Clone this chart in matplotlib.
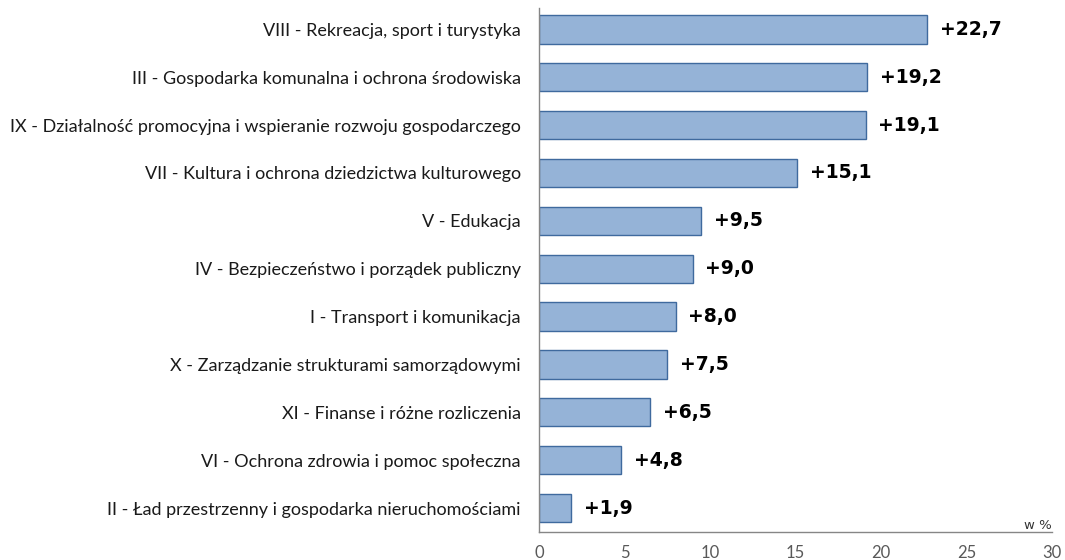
import numpy as np
import matplotlib.pyplot as plt

# dane: dynamika wydatkow wg obszarow (w %)
kategorie = [
    "VIII - Rekreacja, sport i turystyka",
    "III - Gospodarka komunalna i ochrona środowiska",
    "IX - Działalność promocyjna i wspieranie rozwoju gospodarczego",
    "VII - Kultura i ochrona dziedzictwa kulturowego",
    "V - Edukacja",
    "IV - Bezpieczeństwo i porządek publiczny",
    "I - Transport i komunikacja",
    "X - Zarządzanie strukturami samorządowymi",
    "XI - Finanse i różne rozliczenia",
    "VI - Ochrona zdrowia i pomoc społeczna",
    "II - Ład przestrzenny i gospodarka nieruchomościami",
]
wartosci = [22.7, 19.2, 19.1, 15.1, 9.5, 9.0, 8.0, 7.5, 6.5, 4.8, 1.9]
etykiety = ["+22,7", "+19,2", "+19,1", "+15,1", "+9,5", "+9,0",
            "+8,0", "+7,5", "+6,5", "+4,8", "+1,9"]
xticks = [0, 5, 10, 15, 20, 25, 30]

fig = plt.figure(figsize=(10.65, 5.6), dpi=100)
ax = fig.add_axes([0.506, 0.05, 0.482, 0.936])

y = np.arange(len(kategorie))
ax.barh(y, wartosci, height=0.59, color="#95B3D7", edgecolor="#3F6A9E", linewidth=1)

for yi, v, lab in zip(y, wartosci, etykiety):
    ax.annotate(lab, (v, yi), xytext=(9, 0), textcoords="offset points",
                va="center", ha="left", fontsize=13.5, fontweight="bold",
                family="DejaVu Sans", color="black")

ax.set_ylim(len(kategorie) - 0.5, -0.45)
ax.set_xlim(0, 30)
ax.set_yticks(y)
ax.set_yticklabels(kategorie, family="Lato", fontsize=13, color="#1a1a1a")
ax.set_xticks(xticks)
ax.set_xticklabels([str(t) for t in xticks], family="Lato", fontsize=12, color="#595959")
ax.tick_params(axis="both", length=0)
ax.tick_params(axis="y", pad=13)
ax.tick_params(axis="x", pad=9)

for s in ["top", "right"]:
    ax.spines[s].set_visible(False)
for s in ["left", "bottom"]:
    ax.spines[s].set_color("#868686")
    ax.spines[s].set_linewidth(1)

ax.text(30, len(kategorie) - 0.5, "w %", ha="right", va="bottom", fontsize=9.5,
        family="DejaVu Sans", color="#333333")

fig.savefig("out.png", dpi=100)
